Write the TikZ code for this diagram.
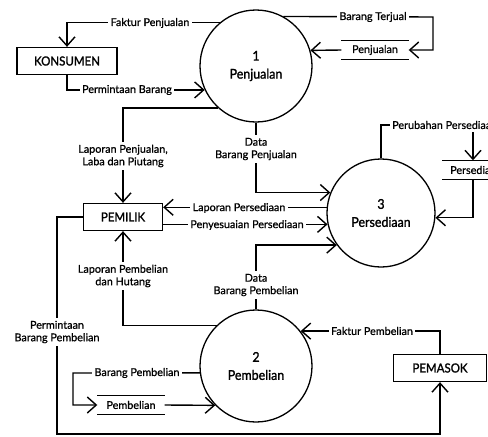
\documentclass[tikz,border=0pt]{standalone}
\usepackage{fontspec}
\setmainfont{Lato}
\newfontfamily\lblfont{Lato}[FakeBold=0.8]
\newfontfamily\headfont{Lato}[FakeBold=1.4,FakeStretch=0.92]
\usetikzlibrary{arrows.meta}
\begin{document}
\begin{tikzpicture}[x=1pt,y=-1pt,
  line width=1.4pt,
  >={Straight Barb[length=9pt,width=16pt]},
  proc/.style={circle,draw,line width=1.3pt,inner sep=0pt,align=center,
    font=\headfont\fontsize{13.5}{18}\selectfont},
  entity/.style={rectangle,draw,line width=1.3pt,minimum height=27pt,inner sep=0pt,
    font=\headfont\fontsize{12.5}{15}\selectfont},
  store/.style={minimum width=66pt,minimum height=18pt,inner sep=0pt,
    font=\lblfont\fontsize{10.8}{12.5}\selectfont},
  lbl/.style={fill=white,inner sep=2.5pt,align=center,
    font=\lblfont\fontsize{10.8}{12.5}\selectfont}]
\useasboundingbox (0,0) rectangle (488,437);
\clip (0,0) rectangle (488,437);

% processes
\node[proc,minimum size=112pt] (c1) at (256,66) {1\\Penjualan};
\node[proc,minimum size=108pt] (c3) at (381,213) {3\\Persediaan};
\node[proc,minimum size=112pt] (c2) at (256,366) {2\\Pembelian};

% external entities
\node[entity,minimum width=100pt] (kons) at (67,61) {KONSUMEN};
\node[entity,minimum width=79pt] (pemilik) at (123,217) {PEMILIK};
\node[entity,minimum width=93pt] (pemasok) at (440,368) {PEMASOK};

% data stores
\node[store] (sp) at (375,50) {Penjualan};
\node[store] (ss) at (476,170) {Persediaan};
\node[store] (sb) at (131,405) {Pembelian};
\foreach \s in {sp,ss,sb}
  \draw (\s.north west) -- (\s.north east) (\s.south west) -- (\s.south east);

% bends of the routed flows
\coordinate (bt) at (433,17);
\coordinate (pc) at (473,125);
\coordinate (pb) at (57,217);
\coordinate (pbb) at (57,434);
\coordinate (bp) at (73,373);

% flows
\draw[->] (c1.130) -| (kons.north);
\draw[->] (kons.south) |- (c1.205.4);
\draw[->] (c1.61) -- (bt) |- (sp.east);
\draw[->] (sp.west) -- (c1.16.6);
\draw[->] (c1.228.6) -| (pemilik.north);
\draw[->] (c1.south) |- (c3.158.3);
\draw[->] (c3.174.7) -- (c3.174.7 -| pemilik.east);
\draw[->] (c3.192.8 -| pemilik.east) -- (c3.192.8);
\draw[->] (c2.north) |- (c3.216.3);
\draw[->] (c2.134.4) -| (pemilik.south);
\draw[->] (pemilik.west) -- (pb) -- (pbb) -| (pemasok.south);
\draw[->] (pemasok.north) |- (c2.38.7);
\draw[->] (c2.187.2) -- (bp) |- (sb.west);
\draw[->] (sb.east) -- (c2.224.1);
\draw[->] (c3.north) |- (pc) -- (ss.north -| pc);
\draw[->] (ss.south -| pc) |- (c3.355.8);

% flow labels
\node[lbl] (l1) at (150,23) {Faktur Penjualan};
\node[lbl] (l2) at (127,90) {Permintaan Barang};
\node[lbl] (l3) at (373,17) {Barang Terjual};
\node[lbl] (l4) at (123,156) {Laporan Penjualan,\\Laba dan Piutang};
\node[lbl] (l5) at (256,149) {Data\\Barang Penjualan};
\node[lbl] (l6) at (239,208) {Laporan Persediaan};
\node[lbl] (l7) at (247,225) {Penyesuaian Persediaan};
\node[lbl] (l8) at (123,276) {Laporan Pembelian\\dan Hutang};
\node[lbl] (l9) at (256,285) {Data\\Barang Pembelian};
\node[lbl] (l10) at (57,332) {Permintaan\\Barang Pembelian};
\node[lbl] (l11) at (372,331) {Faktur Pembelian};
\node[lbl] (l12) at (137,373) {Barang Pembelian};
\node[lbl,anchor=west] (l13) at (389,125) {Perubahan Persediaan};
\end{tikzpicture}
\end{document}
